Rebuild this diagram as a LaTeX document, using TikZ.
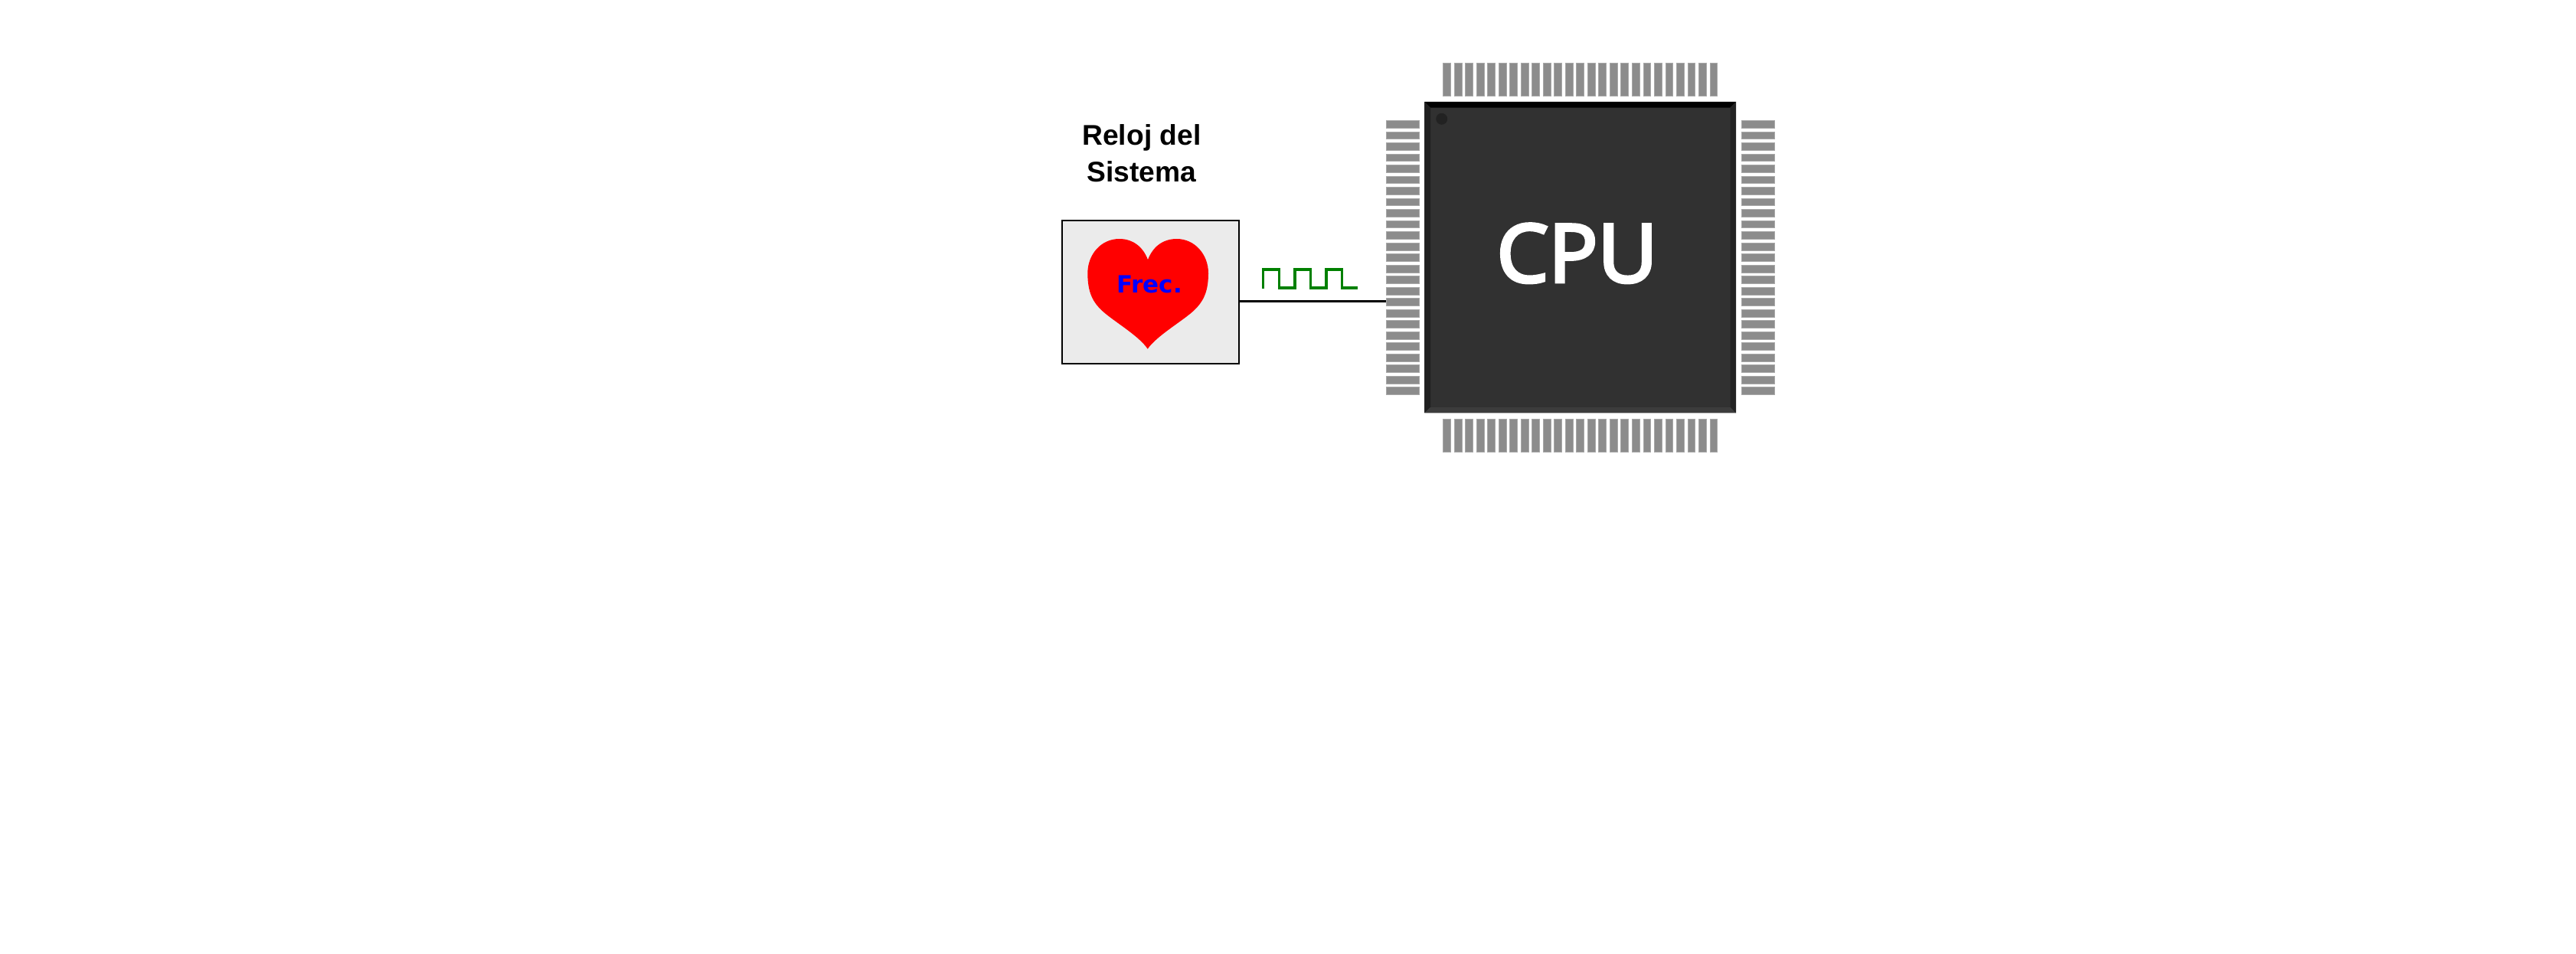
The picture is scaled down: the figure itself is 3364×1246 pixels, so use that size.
\documentclass[tikz,border=0pt]{standalone}
\usepackage{fontspec}
\setmainfont{Liberation Sans}
\newfontfamily\cpufont[FakeBold=4,FakeStretch=1.02]{Open Sans}
\newfontfamily\frecfont[Scale=1]{DejaVu Sans}
\definecolor{pinfill}{HTML}{8C8C8C}
\definecolor{pinedge}{HTML}{A8A8A8}
\definecolor{chipface}{HTML}{313131}
\definecolor{chipleft}{HTML}{1F1F1F}
\definecolor{chipright}{HTML}{222222}
\definecolor{chipbottom}{HTML}{3C3C3C}
\definecolor{chipdot}{HTML}{222222}
\definecolor{boxfill}{HTML}{EBEBEB}
\definecolor{pulse}{HTML}{008000}
\tikzset{
  pinshape/.style={fill=pinfill,draw=pinedge,line width=0.6pt},
  clockbox/.style={draw=black,fill=boxfill,line width=2pt,minimum width=231.6pt,minimum height=187pt,inner sep=0pt,outer sep=0pt,anchor=north west},
  titletext/.style={font=\fontsize{37.2}{47.7}\selectfont\bfseries,align=center,inner sep=0pt,anchor=base},
  wire/.style={draw=black,line width=3pt},
}
\begin{document}
\begin{tikzpicture}[x=1pt,y=-1pt]
\useasboundingbox[fill=white] (0,0) rectangle (3364,1246);
% title
\node[titletext] (title1) at (1490.9,190) {Reloj del};
\node[titletext] (title2) at (1490.9,237.7) {Sistema};
% clock box
\node[clockbox] (clock) at (1386.7,287.7) {};
\fill[red] (1499,339.3) .. controls (1493,323) and (1480,312) .. (1461.7,312)
  .. controls (1438,312) and (1420.3,332) .. (1420.3,357)
  .. controls (1420.3,383) and (1428,395) .. (1438.3,405)
  .. controls (1453,419) and (1487,438) .. (1498.7,455.7)
  .. controls (1511,438) and (1545,419) .. (1559.7,405)
  .. controls (1570,395) and (1578,383) .. (1578,357)
  .. controls (1578,332) and (1560,312) .. (1536.7,312)
  .. controls (1518,312) and (1505,323) .. (1499,339.3) -- cycle;
\node[font=\frecfont\fontsize{31}{31}\selectfont\bfseries,text=blue,inner sep=0pt,anchor=base] (frec) at (1501,382.7) {Frec.};
% pulse
\draw[pulse,line width=3.4pt,line join=miter]
  (1649.3,377) -- (1649.3,352) -- (1670.7,352) -- (1670.7,376) -- (1691,376) -- (1691,352)
  -- (1711.7,352) -- (1711.7,376) -- (1732,376) -- (1732,352) -- (1752.7,352) -- (1752.7,376) -- (1773,376);
% pins
\foreach \i in {0,...,24}{
  \path[pinshape] ({1884.6+14.51*\i},82.6) rectangle ++(9.9,43.2);
  \path[pinshape] ({1884.6+14.51*\i},547) rectangle ++(9.9,43.2);
  \path[pinshape] (1810,{157.3+14.51*\i}) rectangle ++(43.2,9.9);
  \path[pinshape] (2274.3,{157.3+14.51*\i}) rectangle ++(43.2,9.9);
}
% chip
\fill[chipface] (1860.3,133) rectangle (2267,539.3);
\fill[black] (1860.3,133) -- (2267,133) -- (2259.5,140.7) -- (1868,140.7) -- cycle;
\fill[chipleft] (1860.3,133) -- (1868,140.7) -- (1868,532) -- (1860.3,539.3) -- cycle;
\fill[chipright] (2267,133) -- (2259.5,140.7) -- (2259.5,532) -- (2267,539.3) -- cycle;
\fill[chipbottom] (1860.3,539.3) -- (1868,532) -- (2259.5,532) -- (2267,539.3) -- cycle;
\fill[chipdot] (1882.7,155.3) circle (7.5);
\node[font=\cpufont\fontsize{105}{105}\selectfont,text=white,inner sep=0pt,anchor=base] (cpu) at (2059.5,368.3) {CPU};
% connector
\coordinate (clockout) at (clock.east |- 0,393.3);
\coordinate (cpuin) at (1809.7,393.3);
\draw[wire] (clockout) -- (cpuin);
\end{tikzpicture}
\end{document}
